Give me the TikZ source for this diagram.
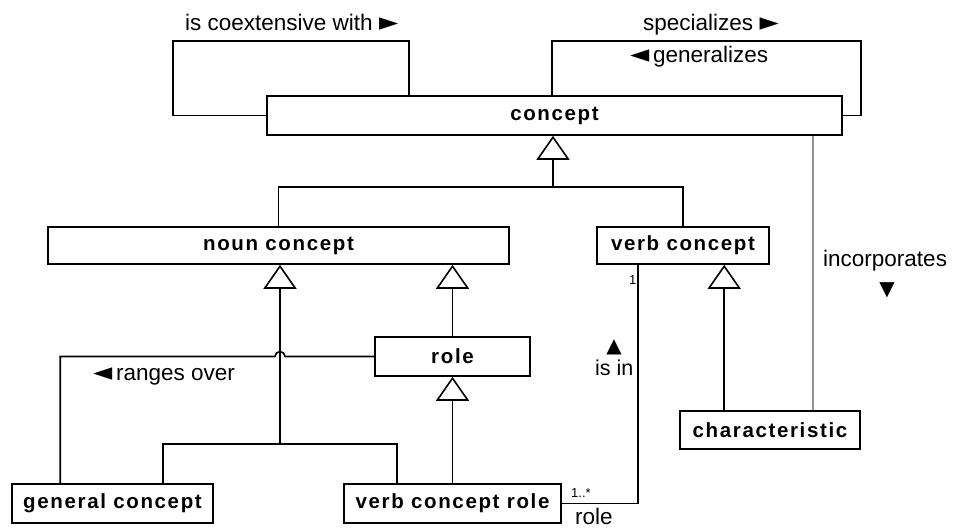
\documentclass[tikz,border=0pt]{standalone}
\usepackage{fontspec}
\setmainfont{Liberation Sans}
\newfontfamily\boxfont[LetterSpace=8]{Liberation Sans}
\newfontfamily\symfont{DejaVu Sans}
\usetikzlibrary{arrows.meta}
\definecolor{assocgray}{RGB}{145,145,145}
% pointer glyphs set in DejaVu Sans
\newcommand{\pointer}[1]{{\symfont\fontsize{25}{25}\selectfont #1}}
\newcommand{\tri}[1]{{\symfont\fontsize{20}{20}\selectfont #1}}
\begin{document}
\begin{tikzpicture}[x=1pt,y=-1pt,
  cls/.style={draw, line width=1.6pt, inner sep=0pt,
    font=\boxfont\bfseries\fontsize{20.5}{24}\selectfont},
  lbl/.style={inner sep=0pt, anchor=base west, font=\fontsize{22.5}{26}\selectfont},
  small/.style={inner sep=0pt, anchor=base west, font=\fontsize{13}{15}\selectfont},
  link/.style={line width=1.6pt},
  gen/.style={line width=1.6pt, -{Triangle[open, width=33pt, length=24pt]}},
  incline/.style={line width=2.4pt, draw=assocgray}]
\useasboundingbox (0,0) rectangle (956,529);

% classes
\node[cls, minimum width=575pt, minimum height=39pt] (concept) at (554.5,115.5) {concept};
\node[cls, minimum width=461pt, minimum height=37pt] (noun) at (278.5,245.5) {noun concept};
\node[cls, minimum width=172pt, minimum height=37pt] (verb) at (683,245.5) {verb concept};
\node[cls, minimum width=155pt, minimum height=39pt] (role) at (452.5,356.5) {role};
\node[cls, minimum width=201pt, minimum height=39pt] (gc) at (112.5,503.5) {general concept};
\node[cls, minimum width=217pt, minimum height=39pt] (vcr) at (452.5,503.5) {verb concept role};
\node[cls, minimum width=180pt, minimum height=38pt] (char) at (770,430) {characteristic};

% self associations on concept
\coordinate (la) at (173,41);
\coordinate (lb) at (409,41);
\draw[link] (concept.west) -| (la) -- (lb) -- (lb |- concept.north);
\coordinate (ra) at (552,41);
\coordinate (rb) at (861,41);
\draw[link] (ra |- concept.north) -- (ra) -- (rb) |- (concept.east);

\node[lbl] (coext) at (185,31) {is coextensive with \pointer{►}};
\node[lbl] (spec) at (643,31) {specializes \pointer{►}};
\node[lbl] (genl) at (630,63) {\pointer{◄}\,generalizes};

% concept generalization set
\coordinate (j1) at (553,187);
\draw[link] (noun.north) |- (j1) -| (verb.north);
\draw[gen] (j1) -- (j1 |- concept.south);

% noun concept generalization set
\coordinate (j2) at (280,444);
\coordinate (gcN) at ([xshift=-51pt]gc.north east);
\coordinate (vcrN) at ([xshift=54pt]vcr.north west);
\draw[link] (gcN) |- (j2) -| (vcrN);
\draw[gen] (j2) -- (j2 |- noun.south);

% role specializes noun concept, verb concept role specializes role
\draw[gen] (role.north) -- (role.north |- noun.south);
\draw[gen] (vcr.north) -- (role.south);

% ranges over, hopping the generalization line
\coordinate (gcR) at ([xshift=49pt]gc.north west);
\draw[link] (gcR) -- (gcR |- role.west) -- (275,356.5)
  arc[start angle=180, end angle=360, radius=5] -- (role.west);
\node[lbl] (ranges) at (93,380) {\pointer{◄}\,ranges over};

% verb concept role is in verb concept
\coordinate (verbS) at ([xshift=42pt]verb.south west);
\draw[link] (verbS) |- (vcr.east);
\node[small] (m1) at (629,285) {1};
\node[small] (m2) at (571,497) {1..*};
\node[lbl] (rolename) at (575,524) {role};
\node[inner sep=0pt] (isinarrow) at (614,347) {\tri{▲}};
\node[lbl, font=\fontsize{21.5}{25}\selectfont] (isin) at (595,375) {is in};

% characteristic specializes verb concept
\coordinate (charN) at ([xshift=45pt]char.north west);
\draw[gen] (charN) -- (charN |- verb.south);

% concept incorporates characteristic
\coordinate (incN) at ([xshift=134pt]char.north west);
\draw[incline] (incN) -- (incN |- concept.south);
\node[lbl] (inc) at (823,267) {incorporates};
\node[inner sep=0pt] (incarrow) at (887,290) {\tri{▼}};
\end{tikzpicture}
\end{document}
